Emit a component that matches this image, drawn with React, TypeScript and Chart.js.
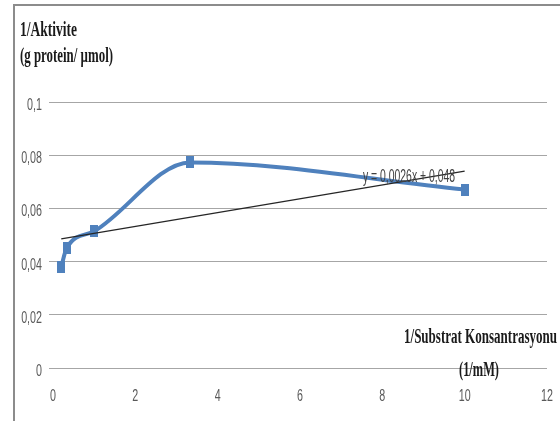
import React, { useEffect, useRef } from "react";
import { Chart, registerables } from "chart.js";
Chart.register(...registerables);

const xValues = [0.2, 0.33, 1, 3.33, 10];
const yValues = [0.038, 0.045, 0.0514, 0.0773, 0.0671];
const trendSlope = 0.0026;
const trendIntercept = 0.048;
const trendRange = [0.2, 10];
const xTickValues = [0, 2, 4, 6, 8, 10, 12];
const xTickLabels = ["0", "2", "4", "6", "8", "10", "12"];
const yTickValues = [0, 0.02, 0.04, 0.06, 0.08, 0.1];
const yTickLabels = ["0", "0,02", "0,04", "0,06", "0,08", "0,1"];
const yTitle = ["1/Aktivite", "(g protein/ µmol)"];
const xTitle = ["1/Substrat Konsantrasyonu", "(1/mM)"];
const trendLabel = "y = 0,0026x + 0,048";

const BLUE = "#4F81BD";

function drawText(
  ctx: CanvasRenderingContext2D,
  s: string,
  x: number,
  y: number,
  font: string,
  color: string,
  align: "left" | "right" | "center",
  sx: number,
  targetWidth?: number
) {
  ctx.save();
  ctx.font = font;
  ctx.fillStyle = color;
  ctx.textBaseline = "alphabetic";
  ctx.textAlign = "left";
  const raw = ctx.measureText(s).width;
  const scale = targetWidth ? targetWidth / raw : sx;
  const w = raw * scale;
  const left = align === "right" ? x - w : align === "center" ? x - w / 2 : x;
  ctx.translate(left, y);
  ctx.scale(scale, 1);
  ctx.fillText(s, 0, 0);
  ctx.restore();
}

const decorPlugin = {
  id: "decor",
  afterDraw(chart: any) {
    const ctx: CanvasRenderingContext2D = chart.ctx;
    const xs = chart.scales.x;
    const ys = chart.scales.y;
    ctx.save();
    ctx.strokeStyle = "#8c8c8c";
    ctx.lineWidth = 2;
    ctx.beginPath();
    ctx.moveTo(14, 421);
    ctx.lineTo(14, 5);
    ctx.lineTo(560, 5);
    ctx.stroke();
    ctx.restore();

    const tickFont = "17px 'Liberation Sans', Arial, sans-serif";
    yTickValues.forEach((v, i) => {
      const py = ys.getPixelForValue(v);
      drawText(ctx, yTickLabels[i], 42, py + 8, tickFont, "#595959", "right", 0.63);
    });
    xTickValues.forEach((v, i) => {
      const px = xs.getPixelForValue(v);
      drawText(ctx, xTickLabels[i], px, 401, tickFont, "#595959", "center", 0.63);
    });

    const titleFont = "bold 20px 'Liberation Serif', 'Times New Roman', serif";
    drawText(ctx, yTitle[0], 20, 36, titleFont, "#1a1a1a", "left", 0.68, 57);
    drawText(ctx, yTitle[1], 20, 62, titleFont, "#1a1a1a", "left", 0.68, 93);
    drawText(ctx, xTitle[0], 404, 343, titleFont, "#1a1a1a", "left", 0.68, 153);
    drawText(ctx, xTitle[1], 479, 376, titleFont, "#1a1a1a", "center", 0.68, 40);

    drawText(
      ctx,
      trendLabel,
      363,
      182,
      "18px 'Liberation Sans', Arial, sans-serif",
      "#404040",
      "left",
      0.63,
      92
    );
  },
};

export default function App() {
  const ref = useRef<HTMLCanvasElement | null>(null);
  useEffect(() => {
    if (!ref.current) return;
    const marker = document.createElement("canvas");
    marker.width = 8;
    marker.height = 12;
    const mctx = marker.getContext("2d")!;
    mctx.fillStyle = BLUE;
    mctx.fillRect(0, 0, 8, 12);

    const mainData = xValues.map((x, i) => ({ x, y: yValues[i] }));
    const trendData = trendRange.map((x) => ({ x, y: trendSlope * x + trendIntercept }));

    const chart = new Chart(ref.current, {
      type: "scatter",
      data: {
        datasets: [
          {
            data: mainData,
            showLine: true,
            borderColor: BLUE,
            borderWidth: 4,
            cubicInterpolationMode: "monotone",
            pointStyle: marker as any,
            pointRadius: 5,
            backgroundColor: BLUE,
            order: 1,
          },
          {
            data: trendData,
            showLine: true,
            borderColor: "#262626",
            borderWidth: 1.3,
            pointRadius: 0,
            tension: 0,
            order: 0,
          },
        ],
      },
      options: {
        animation: false,
        responsive: false,
        events: [],
        layout: { padding: { left: 49, right: 13, top: 102, bottom: 45 } },
        plugins: { legend: { display: false }, tooltip: { enabled: false } },
        scales: {
          x: {
            type: "linear",
            min: 0,
            max: 12,
            ticks: { display: false, stepSize: 2 },
            grid: { display: false },
            border: { display: false },
          },
          y: {
            type: "linear",
            min: 0,
            max: 0.1,
            ticks: { display: false, stepSize: 0.02 },
            grid: { color: "#a6a6a6", lineWidth: 1, tickLength: 4, drawTicks: true },
            border: { display: false },
          },
        },
      },
      plugins: [decorPlugin],
    });
    return () => chart.destroy();
  }, []);
  return (
    <div style={{ position: "fixed", left: 0, top: 0, width: 560, height: 421, background: "#fff" }}>
      <canvas ref={ref} width={560} height={421} />
    </div>
  );
}
